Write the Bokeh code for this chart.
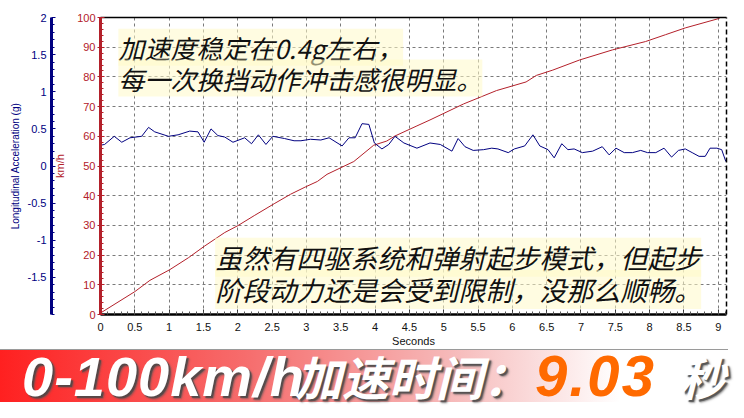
import numpy as np
from bokeh.plotting import figure
from bokeh.models import Range1d, LinearAxis, FixedTicker, Label, Div
from bokeh.layouts import column
from bokeh.embed import file_html
from bokeh.resources import INLINE

# ---------------- data ----------------
acc_time = [0.00, 0.06, 0.20, 0.31, 0.43, 0.60, 0.70, 0.79, 0.99, 1.13, 1.30, 1.42, 1.51, 1.61,
            1.71, 1.81, 1.93, 2.10, 2.20, 2.30, 2.41, 2.51, 2.68, 2.82, 2.92, 3.06, 3.21, 3.33,
            3.52, 3.62, 3.71, 3.81, 3.91, 3.99, 4.10, 4.20, 4.29, 4.42, 4.61, 4.80, 4.95, 5.12,
            5.21, 5.31, 5.43, 5.58, 5.70, 5.79, 5.94, 6.03, 6.18, 6.30, 6.40, 6.52, 6.61, 6.72,
            6.81, 6.90, 7.02, 7.17, 7.31, 7.41, 7.51, 7.63, 7.75, 7.87, 7.97, 8.09, 8.21, 8.32,
            8.42, 8.52, 8.62, 8.72, 8.81, 8.88, 8.98, 9.05, 9.11]
acc_g = [0.28, 0.29, 0.40, 0.32, 0.38, 0.40, 0.52, 0.46, 0.40, 0.42, 0.47, 0.46, 0.32, 0.50,
         0.41, 0.39, 0.32, 0.38, 0.30, 0.42, 0.29, 0.40, 0.37, 0.34, 0.34, 0.36, 0.35, 0.38,
         0.27, 0.38, 0.38, 0.57, 0.56, 0.31, 0.23, 0.29, 0.40, 0.31, 0.24, 0.31, 0.29, 0.20,
         0.37, 0.26, 0.21, 0.22, 0.24, 0.23, 0.18, 0.23, 0.27, 0.42, 0.27, 0.22, 0.11, 0.30,
         0.22, 0.23, 0.18, 0.20, 0.26, 0.15, 0.24, 0.18, 0.18, 0.21, 0.18, 0.18, 0.24, 0.12,
         0.21, 0.23, 0.18, 0.13, 0.13, 0.24, 0.24, 0.22, 0.06]

spd_time = [0.00, 0.50, 0.72, 1.01, 1.28, 1.52, 1.81, 2.00, 2.24, 2.53, 2.77, 2.99, 3.16, 3.30,
            3.69, 3.98, 4.17, 4.29, 4.61, 4.80, 5.29, 5.77, 6.20, 6.35, 6.59, 6.98, 7.46, 7.94,
            8.23, 8.52, 9.00, 9.03]
spd_kmh = [0.5, 7.7, 11.5, 15.1, 19.1, 23.1, 27.6, 29.9, 33.3, 37.3, 40.5, 43.0, 44.8, 47.2,
           51.5, 57.0, 58.4, 60.1, 63.5, 65.5, 70.9, 75.4, 78.3, 80.5, 82.3, 85.7, 89.1, 91.9,
           94.2, 96.5, 99.6, 100.0]

x_ticks = [0, 0.5, 1, 1.5, 2, 2.5, 3, 3.5, 4, 4.5, 5, 5.5, 6, 6.5, 7, 7.5, 8, 8.5, 9]
x_tick_labels = ["0", "0.5", "1", "1.5", "2", "2.5", "3", "3.5", "4", "4.5", "5", "5.5",
                 "6", "6.5", "7", "7.5", "8", "8.5", "9"]
kmh_ticks = [0, 10, 20, 30, 40, 50, 60, 70, 80, 90, 100]
acc_ticks = [-1.5, -1, -0.5, 0, 0.5, 1, 1.5, 2]
acc_tick_labels = ["-1.5", "-1", "-0.5", "0", "0.5", "1", "1.5", "2"]

note1 = ["加速度稳定在0.4g左右，", "每一次换挡动作冲击感很明显。"]
note2 = ["虽然有四驱系统和弹射起步模式，但起步", "阶段动力还是会受到限制，没那么顺畅。"]
banner_a = "0-100km/h"
banner_b = "加速时间："
banner_time = "9.03"
banner_unit = "秒"

RED = "#b3202a"
NAVY = "#000080"
LFONT = "Liberation Sans"
CJK = "Noto Sans CJK SC"

W = 728
H_CHART = 349
H_BANNER = 53

# ---------------- main chart ----------------
p = figure(width=W, height=H_CHART, output_backend="svg", toolbar_location=None,
           x_range=Range1d(0, 9.12), y_range=Range1d(0, 100),
           min_border_left=100, min_border_right=2, min_border_top=17, min_border_bottom=10,
           background_fill_color="white", border_fill_color="white")
p.outline_line_color = None
p.extra_y_ranges = {"acc": Range1d(-2, 2)}

# x axis
xa = p.xaxis[0]
xa.ticker = FixedTicker(ticks=x_ticks, minor_ticks=list(np.arange(0, 9.2, 0.1)))
xa.major_label_overrides = {t: l for t, l in zip(x_ticks, x_tick_labels)}
xa.axis_label = "Seconds"
xa.axis_label_text_font = LFONT
xa.axis_label_text_font_size = "11px"
xa.axis_label_text_font_style = "normal"
xa.axis_label_text_color = "#111111"
xa.axis_label_standoff = 1
xa.major_label_text_font = LFONT
xa.major_label_text_font_size = "11px"
xa.major_label_text_color = "#111111"
xa.major_label_standoff = 8
xa.axis_line_color = "black"
xa.axis_line_width = 2.5
xa.major_tick_in = 5
xa.major_tick_out = 0
xa.minor_tick_in = 3
xa.minor_tick_out = 0
xa.major_tick_line_color = "#333333"
xa.minor_tick_line_color = "#555555"

# km/h axis
ya = p.yaxis[0]
ya.ticker = FixedTicker(ticks=kmh_ticks, minor_ticks=list(np.arange(0, 101, 2)))
ya.axis_label = "km/h"
ya.axis_label_text_font = LFONT
ya.axis_label_text_font_size = "11px"
ya.axis_label_text_font_style = "normal"
ya.axis_label_text_color = RED
ya.axis_label_standoff = 8
ya.major_label_text_font = LFONT
ya.major_label_text_font_size = "11px"
ya.major_label_text_color = RED
ya.major_label_standoff = 2
ya.axis_line_color = RED
ya.axis_line_width = 3
ya.major_tick_in = 4
ya.major_tick_out = 3
ya.minor_tick_in = 3
ya.minor_tick_out = 0
ya.major_tick_line_color = RED
ya.minor_tick_line_color = RED

# acceleration axis
aa = LinearAxis(y_range_name="acc",
                ticker=FixedTicker(ticks=acc_ticks, minor_ticks=list(np.arange(-2, 2.01, 0.1))))
aa.major_label_overrides = {t: l for t, l in zip(acc_ticks, acc_tick_labels)}
aa.axis_label = "Longitudinal Acceleration (g)"
aa.axis_label_text_font = LFONT
aa.axis_label_text_font_size = "10px"
aa.axis_label_text_font_style = "normal"
aa.axis_label_text_color = NAVY
aa.axis_label_standoff = 4
aa.major_label_text_font = LFONT
aa.major_label_text_font_size = "11px"
aa.major_label_text_color = NAVY
aa.major_label_standoff = 5
aa.axis_line_color = NAVY
aa.axis_line_width = 3
aa.major_tick_in = 4
aa.major_tick_out = 0
aa.minor_tick_in = 3
aa.minor_tick_out = 0
aa.major_tick_line_color = NAVY
aa.minor_tick_line_color = NAVY
p.add_layout(aa, "left")

# frame top (solid) and right (dashed) borders
top = LinearAxis(ticker=FixedTicker(ticks=[]), axis_line_color="black", axis_line_width=1.5,
                 major_tick_line_color=None, minor_tick_line_color=None,
                 major_label_text_font_size="0px")
p.add_layout(top, "above")
right = LinearAxis(ticker=FixedTicker(ticks=[]), axis_line_color="black", axis_line_width=1.5,
                   axis_line_dash="5 3", major_tick_line_color=None, minor_tick_line_color=None,
                   major_label_text_font_size="0px")
p.add_layout(right, "right")

# grid
for g in (p.xgrid[0], p.ygrid[0]):
    g.grid_line_color = "#7a7a7a"
    g.grid_line_dash = "3 3"
    g.grid_line_width = 1
p.xgrid[0].ticker = FixedTicker(ticks=x_ticks)
p.ygrid[0].ticker = FixedTicker(ticks=kmh_ticks)

# data lines
p.line(spd_time, spd_kmh, line_color=RED, line_width=1)
p.line(acc_time, acc_g, y_range_name="acc", line_color=NAVY, line_width=1)

# annotations
def note(x, y, txt, size):
    p.add_layout(Label(x=x, y=y, text=txt, text_font=CJK, text_font_size=size,
                       text_font_style="italic", text_color="#111111",
                       text_baseline="middle", text_align="left",
                       background_fill_color="#fff9c8", background_fill_alpha=0.55))

note(0.26, 90.0, note1[0], "26px")
note(0.26, 79.6, note1[1], "26px")
note(1.67, 19.3, note2[0], "27px")
note(1.67, 8.4, note2[1], "27px")

# ---------------- banner (HTML block under the chart) ----------------
shadow = "text-shadow:2px 2px 1px rgba(70,70,70,0.85),3px 3px 2px rgba(90,90,90,0.5);"
common = ("display:inline-block;font-weight:bold;font-style:italic;white-space:nowrap;"
          "line-height:46px;height:46px;")
banner_html = (
    f'<div style="position:relative;width:{W}px;height:{H_BANNER}px;'
    'box-sizing:border-box;border-top:1px solid #9a9a9a;'
    'background:linear-gradient(to right,#ff2020 0px,#f66e6e 250px,#f6b9b9 450px,'
    '#ffffff 620px,#ffffff 728px);">'
    '<div style="position:absolute;left:0;top:3px;display:flex;align-items:baseline;'
    'line-height:46px;">'
    f'<span style="{common}margin-left:22px;width:273px;font-family:\'{LFONT}\';'
    f'font-size:56px;letter-spacing:1px;color:#ffffff;{shadow}">{banner_a}</span>'
    f'<span style="{common}width:240px;font-family:\'{CJK}\';font-size:47px;'
    f'color:#ffffff;{shadow}">{banner_b}</span>'
    f'<span style="{common}width:144px;font-family:\'{LFONT}\';font-size:58px;'
    f'letter-spacing:2px;color:#ff6a00;">{banner_time}</span>'
    f'<span style="{common}width:46px;font-family:\'{CJK}\';font-size:46px;color:#ffffff;'
    f'{shadow}">{banner_unit}</span>'
    '</div></div>'
)
banner = Div(text=banner_html, width=W, height=H_BANNER, margin=0)

layout = column(p, banner, spacing=0)
open("out.html", "w").write(file_html(layout, INLINE))
